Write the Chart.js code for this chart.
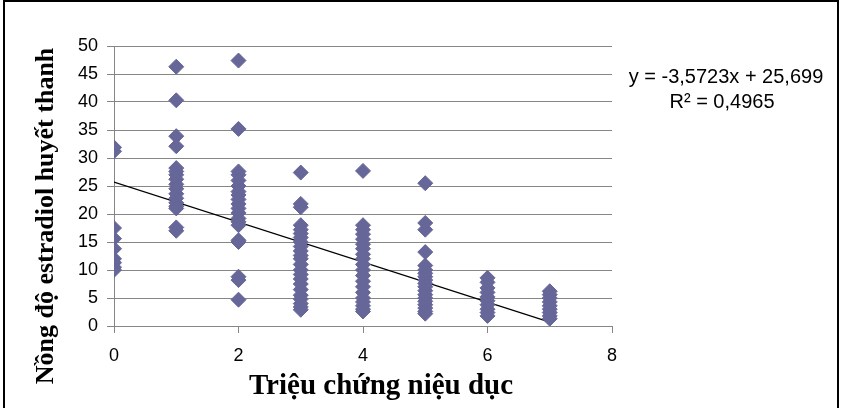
<!DOCTYPE html>
<html>
<head>
<meta charset="utf-8">
<script src="https://cdn.jsdelivr.net/npm/chart.js@4"></script>
<style>
  html, body { margin: 0; padding: 0; background: #fff; }
  #wrap { width: 842px; height: 408px; }
</style>
</head>
<body>
<div id="wrap"><canvas id="scatterChart" width="842" height="408"></canvas></div>
<script>
// symptom score categories and serum estradiol values
const categories = [0, 1, 2, 3, 4, 5, 6, 7];
const values0 = [31.9, 31.2, 17.5, 15.6, 13.8, 12.0, 11.3, 10.5, 10.0];
const values1 = [46.3, 40.3, 33.9, 32.1, 28.2, 27.6, 27.0, 26.2, 25.3, 24.5, 23.6, 22.8, 22.0, 21.4, 21.0, 17.6, 17.0];
const values2 = [47.4, 35.2, 27.6, 27.0, 26.0, 25.0, 24.0, 23.4, 22.6, 21.8, 21.0, 20.2, 19.2, 18.6, 18.0, 15.3, 15.0, 8.8, 8.2, 4.7];
const values3 = [27.4, 21.8, 21.2, 18.0, 17.2, 16.5, 15.8, 15.0, 14.2, 13.4, 12.6, 12.0, 11.0, 10.0, 9.2, 8.4, 7.5, 6.5, 5.5, 4.8, 4.0, 3.4, 2.9];
const values4 = [27.7, 18.0, 17.2, 16.4, 15.5, 14.6, 13.8, 12.8, 12.0, 11.0, 10.0, 9.0, 8.0, 7.0, 6.0, 5.0, 4.3, 3.6, 3.0, 2.6];
const values5 = [25.5, 18.4, 17.2, 13.2, 10.8, 10.0, 9.4, 8.8, 8.2, 7.6, 7.0, 6.3, 5.6, 5.0, 4.4, 3.8, 3.2, 2.6, 2.2];
const values6 = [8.6, 7.8, 6.8, 6.0, 5.2, 4.5, 3.8, 3.0, 2.4, 1.8];
const values7 = [6.2, 5.6, 5.0, 4.3, 3.6, 3.0, 2.4, 1.8, 1.3];
const groups = [values0, values1, values2, values3, values4, values5, values6, values7];

// linear trend shown in the chart
const slope = -3.5723;
const intercept = 25.699;
const rSquared = '0,4965';
const trendX = [0, 7];

const xTitle = 'Triệu chứng niệu dục';
const yTitle = 'Nồng độ estradiol huyết thanh';

const points = [];
categories.forEach((c, i) => groups[i].forEach(v => points.push({x: c, y: v})));
const trend = trendX.map(x => ({x: x, y: slope * x + intercept}));

const gridColor = '#868686';

const extras = {
  id: 'extras',
  afterDraw(chart) {
    const ctx = chart.ctx;
    ctx.save();
    // outer frame
    ctx.strokeStyle = '#000';
    ctx.lineWidth = 2;
    ctx.strokeRect(4, 1, 834, 430);
    // axis titles
    ctx.fillStyle = '#000';
    ctx.textAlign = 'center';
    ctx.textBaseline = 'middle';
    ctx.font = 'bold 29px "Liberation Serif", "Times New Roman", serif';
    ctx.fillText(xTitle, 381, 387);
    ctx.font = 'bold 26px "Liberation Serif", "Times New Roman", serif';
    ctx.translate(46, 216);
    ctx.rotate(-Math.PI / 2);
    ctx.fillText(yTitle, 0, 0);
    ctx.restore();
    // trendline label
    ctx.save();
    ctx.fillStyle = '#000';
    ctx.font = '20px "Liberation Sans", Arial, sans-serif';
    ctx.textAlign = 'center';
    ctx.textBaseline = 'middle';
    ctx.fillText('y = -3,5723x + 25,699', 726, 77);
    ctx.fillText('R\u00B2 = ' + rSquared, 722, 102);
    ctx.restore();
  }
};

const config = {
  type: 'scatter',
  data: {
    datasets: [{
      label: 'estradiol',
      data: points,
      pointStyle: 'rectRot',
      pointRadius: 7.5,
      pointHoverRadius: 7.5,
      backgroundColor: '#666699',
      borderColor: '#666699',
      borderWidth: 1
    }, {
      label: 'trend',
      type: 'line',
      data: trend,
      showLine: true,
      borderColor: '#000',
      borderWidth: 1.2,
      pointRadius: 0,
      fill: false
    }]
  },
  options: {
    responsive: false,
    animation: false,
    layout: { padding: { left: 8, right: 230, top: 46, bottom: 0 } },
    plugins: {
      legend: { display: false },
      tooltip: { enabled: false }
    },
    scales: {
      x: {
        type: 'linear',
        min: 0,
        max: 8,
        afterFit: s => { s.height = 82; },
        ticks: {
          stepSize: 2,
          padding: 12,
          color: '#000',
          font: { family: '"Liberation Sans", Arial, sans-serif', size: 18 }
        },
        grid: { drawOnChartArea: false, tickLength: 7, color: gridColor },
        border: { color: gridColor, width: 1 }
      },
      y: {
        min: 0,
        max: 50,
        afterFit: s => { s.width = 106; },
        ticks: {
          stepSize: 5,
          padding: 9,
          color: '#000',
          font: { family: '"Liberation Sans", Arial, sans-serif', size: 18 }
        },
        grid: { tickLength: 7, color: gridColor },
        border: { color: gridColor, width: 1 }
      }
    }
  },
  plugins: [extras]
};

new Chart(document.getElementById('scatterChart'), config);
</script>
</body>
</html>
